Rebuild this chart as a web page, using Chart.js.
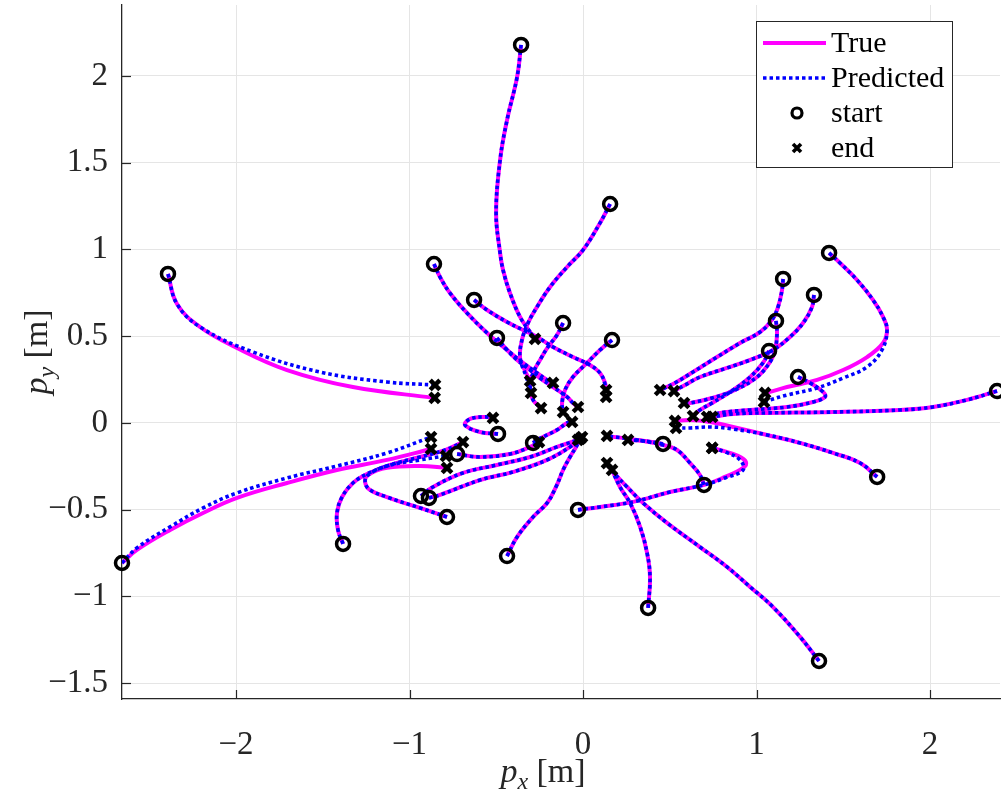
<!DOCTYPE html>
<html><head><meta charset="utf-8">
<script src="https://cdn.jsdelivr.net/npm/chart.js@4/dist/chart.umd.min.js"></script>
<style>html,body{margin:0;padding:0;background:#fff}#wrap{width:1001px;height:794px;position:relative}</style>
</head><body><div id="wrap"><canvas id="c" width="1001" height="794"></canvas></div>
<script>
// axis tick labels
const xTicks = [-2, -1, 0, 1, 2];
const yTicks = [-1.5, -1, -0.5, 0, 0.5, 1, 1.5, 2];
const xRange = [-2.657, 2.403];
const yRange = [-1.591, 2.409];
const legendLabels = ['True', 'Predicted', 'start', 'end'];

// trajectories: true (tr) and predicted (pr), [px, py] in metres
const tr01 = [[-0.357,2.179],[-0.380,1.994],[-0.438,1.746],[-0.478,1.516],[-0.501,1.210],[-0.478,0.980],[-0.461,0.882],[-0.421,0.749],[-0.363,0.611],[-0.305,0.524],[-0.277,0.484]];
const pr01 = tr01;
const tr02 = [[0.156,1.262],[0.098,1.153],[0,0.997],[-0.092,0.899],[-0.190,0.784],[-0.265,0.669],[-0.317,0.576],[-0.352,0.478],[-0.363,0.375],[-0.334,0.300],[-0.305,0.242]];
const pr02 = [[0.156,1.262],[0.098,1.153],[0,0.997],[-0.092,0.899],[-0.190,0.784],[-0.265,0.669],[-0.317,0.576],[-0.352,0.478],[-0.363,0.375],[-0.325,0.260],[-0.300,0.173]];
const tr03 = [[-2.392,0.859],[-2.340,0.686],[-2.207,0.553],[-2.006,0.438],[-1.706,0.305],[-1.326,0.207],[-0.855,0.144]];
const pr03 = [[-2.392,0.859],[-2.340,0.686],[-2.207,0.553],[-1.902,0.409],[-1.516,0.294],[-1.130,0.236],[-0.853,0.219]];
const tr04 = [[-0.859,0.916],[-0.824,0.841],[-0.767,0.749],[-0.669,0.634],[-0.553,0.519],[-0.438,0.421],[-0.346,0.346],[-0.265,0.288],[-0.207,0.248],[-0.173,0.231]];
const pr04 = tr04;
const tr05 = [[-0.628,0.709],[-0.553,0.651],[-0.438,0.582],[-0.346,0.536],[-0.265,0.496],[-0.173,0.438],[-0.058,0.380],[0.040,0.334],[0.098,0.288],[0.127,0.231],[0.133,0.190]];
const pr05 = [[-0.628,0.709],[-0.553,0.651],[-0.438,0.582],[-0.346,0.536],[-0.265,0.496],[-0.173,0.438],[-0.058,0.380],[0.040,0.334],[0.098,0.288],[0.127,0.221],[0.133,0.150]];
const tr06 = [[-0.496,0.490],[-0.438,0.421],[-0.380,0.363],[-0.305,0.305],[-0.248,0.259],[-0.173,0.207],[-0.092,0.150],[-0.058,0.115],[-0.029,0.092]];
const pr06 = tr06;
const tr07 = [[-0.115,0.576],[-0.150,0.507],[-0.202,0.438],[-0.248,0.363],[-0.288,0.288],[-0.305,0.207],[-0.288,0.133],[-0.242,0.086]];
const pr07 = tr07;
const tr08 = [[0.167,0.478],[0.098,0.421],[0.023,0.346],[-0.058,0.265],[-0.104,0.190],[-0.121,0.115],[-0.115,0.063]];
const pr08 = tr08;
const tr09 = [[1.418,0.980],[1.481,0.922],[1.579,0.824],[1.671,0.709],[1.729,0.611],[1.752,0.536],[1.729,0.461],[1.637,0.380],[1.499,0.305],[1.349,0.248],[1.176,0.207],[1.078,0.179],[1.049,0.173]];
const pr09 = [[1.418,0.980],[1.481,0.922],[1.579,0.824],[1.671,0.709],[1.729,0.611],[1.752,0.536],[1.723,0.421],[1.637,0.323],[1.499,0.259],[1.349,0.202],[1.176,0.161],[1.078,0.133],[1.043,0.121]];
const tr10 = [[1.153,0.830],[1.147,0.767],[1.124,0.669],[1.089,0.594],[1.020,0.524],[0.905,0.461],[0.772,0.380],[0.634,0.294],[0.530,0.231],[0.444,0.190]];
const pr10 = tr10;
const tr11 = [[1.331,0.738],[1.320,0.669],[1.268,0.576],[1.193,0.496],[1.095,0.421],[0.963,0.363],[0.830,0.317],[0.674,0.265],[0.588,0.219],[0.524,0.184]];
const pr11 = tr11;
const tr12 = [[1.112,0.588],[1.118,0.519],[1.107,0.421],[1.078,0.352],[1.003,0.265],[0.876,0.190],[0.744,0.144],[0.617,0.115],[0.582,0.115]];
const pr12 = tr12;
const tr13 = [[1.072,0.415],[1.037,0.346],[0.963,0.265],[0.865,0.190],[0.744,0.115],[0.674,0.075],[0.634,0.040]];
const pr13 = tr13;
const tr14 = [[1.239,0.265],[1.308,0.231],[1.383,0.179],[1.395,0.150],[1.326,0.121],[1.176,0.092],[0.963,0.075],[0.790,0.058],[0.715,0.035]];
const pr14 = tr14;
const tr15 = [[2.386,0.184],[2.213,0.133],[2.017,0.092],[1.827,0.075],[1.441,0.063],[1.061,0.058],[0.865,0.052],[0.744,0.035]];
const pr15 = tr15;
const tr16 = [[0.461,-0.121],[0.357,-0.104],[0.259,-0.098]];
const pr16 = tr16;
const tr17 = [[0.697,-0.357],[0.674,-0.300],[0.617,-0.231],[0.542,-0.156],[0.461,-0.127],[0.311,-0.098],[0.138,-0.075]];
const pr17 = tr17;
const tr18 = [[1.695,-0.311],[1.597,-0.231],[1.441,-0.173],[1.251,-0.115],[1.061,-0.069],[0.865,-0.023],[0.732,0.006],[0.617,0.017],[0.530,0.012]];
const pr18 = [[1.695,-0.311],[1.597,-0.231],[1.441,-0.173],[1.251,-0.115],[1.061,-0.069],[0.865,-0.035],[0.732,-0.023],[0.617,-0.029],[0.536,-0.029]];
const tr19 = [[-2.657,-0.807],[-2.571,-0.732],[-2.380,-0.617],[-2.190,-0.519],[-1.994,-0.432],[-1.706,-0.346],[-1.418,-0.271],[-1.130,-0.213],[-0.876,-0.150]];
const pr19 = [[-2.657,-0.807],[-2.571,-0.720],[-2.380,-0.599],[-2.190,-0.490],[-1.994,-0.403],[-1.706,-0.317],[-1.418,-0.248],[-1.130,-0.173],[-0.876,-0.081]];
const tr20 = [[-1.383,-0.697],[-1.412,-0.617],[-1.418,-0.519],[-1.389,-0.427],[-1.326,-0.346],[-1.245,-0.294],[-1.112,-0.242],[-0.939,-0.196],[-0.795,-0.156],[-0.692,-0.110]];
const pr20 = tr20;
const tr21 = [[-0.726,-0.179],[-0.594,-0.196],[-0.421,-0.179],[-0.305,-0.138],[-0.254,-0.110]];
const pr21 = tr21;
const tr22 = [[-0.934,-0.421],[-0.865,-0.369],[-0.692,-0.288],[-0.496,-0.242],[-0.305,-0.196],[-0.150,-0.138],[-0.029,-0.098]];
const pr22 = tr22;
const tr23 = [[-0.888,-0.432],[-0.824,-0.415],[-0.594,-0.329],[-0.403,-0.282],[-0.207,-0.213],[-0.075,-0.138],[-0.006,-0.081]];
const pr23 = tr23;
const tr24 = [[-0.784,-0.542],[-0.939,-0.490],[-1.130,-0.427],[-1.228,-0.386],[-1.256,-0.340],[-1.239,-0.300],[-1.130,-0.259],[-0.939,-0.248],[-0.784,-0.259]];
const pr24 = [[-0.784,-0.542],[-0.939,-0.490],[-1.130,-0.427],[-1.228,-0.386],[-1.256,-0.340],[-1.239,-0.300],[-1.130,-0.248],[-0.939,-0.213],[-0.790,-0.190]];
const tr25 = [[-0.490,-0.063],[-0.594,-0.052],[-0.680,-0.012],[-0.651,0.023],[-0.565,0.035],[-0.519,0.029]];
const pr25 = tr25;
const tr26 = [[-0.288,-0.115],[-0.265,-0.098],[-0.150,-0.040],[-0.092,0.000],[-0.063,0.006]];
const pr26 = tr26;
const tr27 = [[-0.438,-0.767],[-0.380,-0.657],[-0.288,-0.542],[-0.207,-0.461],[-0.156,-0.369],[-0.115,-0.271],[-0.075,-0.196],[-0.040,-0.138],[-0.017,-0.092]];
const pr27 = tr27;
const tr28 = [[-0.029,-0.501],[0.098,-0.484],[0.288,-0.455],[0.501,-0.398],[0.697,-0.357],[0.818,-0.311],[0.922,-0.259],[0.939,-0.225],[0.893,-0.190],[0.790,-0.156],[0.744,-0.144]];
const pr28 = [[-0.029,-0.501],[0.098,-0.484],[0.288,-0.455],[0.501,-0.398],[0.697,-0.357],[0.818,-0.317],[0.922,-0.271],[0.905,-0.213],[0.818,-0.167],[0.744,-0.144]];
const tr29 = [[0.375,-1.066],[0.386,-0.888],[0.369,-0.749],[0.329,-0.599],[0.271,-0.461],[0.213,-0.369],[0.167,-0.271]];
const pr29 = tr29;
const tr30 = [[1.360,-1.372],[1.251,-1.233],[1.095,-1.061],[0.963,-0.945],[0.830,-0.830],[0.674,-0.715],[0.484,-0.576],[0.346,-0.461],[0.254,-0.369],[0.173,-0.282],[0.138,-0.231]];
const pr30 = tr30;

const trueSets = [tr01,tr02,tr03,tr04,tr05,tr06,tr07,tr08,tr09,tr10,tr11,tr12,tr13,tr14,tr15,tr16,tr17,tr18,tr19,tr20,tr21,tr22,tr23,tr24,tr25,tr26,tr27,tr28,tr29,tr30];
const predSets = [pr01,pr02,pr03,pr04,pr05,pr06,pr07,pr08,pr09,pr10,pr11,pr12,pr13,pr14,pr15,pr16,pr17,pr18,pr19,pr20,pr21,pr22,pr23,pr24,pr25,pr26,pr27,pr28,pr29,pr30];

const MAG = '#ff00ff', BLU = '#0000ff', INK = '#262626';
const SERIF = '"Liberation Serif", "Times New Roman", serif';
const toPts = a => a.map(p => ({x: p[0], y: p[1]}));
const fmt = v => String(v).replace('-', '\u2212');

const datasets = [];
datasets.push({label:'start', data: trueSets.map(t => ({x:t[0][0], y:t[0][1]})), showLine:false,
  pointStyle:'circle', pointRadius:6.5, pointBorderWidth:3.5, pointBorderColor:'#000', pointBackgroundColor:'rgba(0,0,0,0)', order:0, clip:false});
const ends = [];
trueSets.forEach((t,i) => { ends.push({x:t[t.length-1][0], y:t[t.length-1][1]}); const p = predSets[i]; if (p !== t) ends.push({x:p[p.length-1][0], y:p[p.length-1][1]}); });
datasets.push({label:'end', data: ends, showLine:false, pointStyle:'crossRot', pointRadius:6.8, pointBorderWidth:4.4,
  pointBorderColor:'#000', pointBackgroundColor:'#000', order:0, clip:false});
predSets.forEach((p,i) => datasets.push({label:'Predicted', data: toPts(p), showLine:true, borderColor:BLU, borderWidth:3.6,
  borderDash:[3.5,3], borderCapStyle:'butt', pointRadius:0, tension:0.4, order:1}));
trueSets.forEach((t,i) => datasets.push({label:'True', data: toPts(t), showLine:true, borderColor:MAG, borderWidth:4,
  pointRadius:0, tension:0.4, order:2}));

const decor = {
  id:'decor',
  afterDraw(chart){
    const ctx = chart.ctx, a = chart.chartArea, xs = chart.scales.x, ys = chart.scales.y;
    ctx.save();
    ctx.strokeStyle = INK; ctx.lineWidth = 1.2;
    xTicks.forEach(v => { const px = Math.round(xs.getPixelForValue(v)) + 0.5; ctx.beginPath(); ctx.moveTo(px, a.bottom); ctx.lineTo(px, a.bottom - 9); ctx.stroke(); });
    yTicks.forEach(v => { const py = Math.round(ys.getPixelForValue(v)) + 0.5; ctx.beginPath(); ctx.moveTo(a.left, py); ctx.lineTo(a.left + 9, py); ctx.stroke(); });
    ctx.fillStyle = INK; ctx.textBaseline = 'alphabetic';
    function title(sub, cx, cy, rot){
      ctx.save(); ctx.translate(cx, cy); ctx.rotate(rot);
      const f1 = 'italic 34px ' + SERIF, f2 = 'italic 24px ' + SERIF, f3 = '34px ' + SERIF;
      ctx.font = f1; const w1 = ctx.measureText('p').width;
      ctx.font = f2; const w2 = ctx.measureText(sub).width;
      ctx.font = f3; const w3 = ctx.measureText(' [m]').width;
      let x = -(w1 + w2 + w3) / 2;
      ctx.font = f1; ctx.fillText('p', x, 0); x += w1;
      ctx.font = f2; ctx.fillText(sub, x, 7); x += w2;
      ctx.font = f3; ctx.fillText(' [m]', x, 0);
      ctx.restore();
    }
    title('x', (a.left + a.right) / 2 - 18, 782, 0);
    title('y', 47, (a.top + a.bottom) / 2, -Math.PI / 2);
    const L = {x:756.5, y:21.5, w:196, h:146};
    ctx.fillStyle = '#fff'; ctx.fillRect(L.x, L.y, L.w, L.h);
    ctx.strokeStyle = INK; ctx.lineWidth = 1; ctx.strokeRect(L.x, L.y, L.w, L.h);
    const rows = [43, 78, 113, 148];
    ctx.lineCap = 'butt';
    ctx.strokeStyle = MAG; ctx.lineWidth = 4; ctx.beginPath(); ctx.moveTo(763, rows[0]); ctx.lineTo(826, rows[0]); ctx.stroke();
    ctx.strokeStyle = BLU; ctx.lineWidth = 3.6; ctx.setLineDash([3.5,3]); ctx.beginPath(); ctx.moveTo(763, rows[1]); ctx.lineTo(826, rows[1]); ctx.stroke();
    ctx.setLineDash([]);
    ctx.strokeStyle = '#000'; ctx.lineWidth = 3.2; ctx.beginPath(); ctx.arc(797, rows[2], 5, 0, Math.PI * 2); ctx.stroke();
    ctx.lineWidth = 3.6; const d = 4;
    ctx.beginPath(); ctx.moveTo(797 - d, rows[3] - d); ctx.lineTo(797 + d, rows[3] + d); ctx.moveTo(797 + d, rows[3] - d); ctx.lineTo(797 - d, rows[3] + d); ctx.stroke();
    ctx.fillStyle = '#000'; ctx.font = '30px ' + SERIF; ctx.textBaseline = 'middle';
    legendLabels.forEach((s, i) => ctx.fillText(s, 831, rows[i] + 1));
    ctx.restore();
  }
};

function zeroPad(s){ s.paddingTop = 0; s.paddingBottom = 0; s.paddingLeft = 0; s.paddingRight = 0; }

new Chart(document.getElementById('c'), {
  type: 'scatter',
  data: { datasets },
  options: {
    responsive:false, animation:false, devicePixelRatio:1,
    layout:{ autoPadding:false, padding:{ top:5, right:1, left:0, bottom:0 } },
    plugins:{ legend:{ display:false }, tooltip:{ enabled:false } },
    scales:{
      x:{ type:'linear', min:xRange[0], max:xRange[1],
        afterBuildTicks: s => { s.ticks = xTicks.map(v => ({value:v})); },
        afterFit: s => { s.height = 95; zeroPad(s); },
        ticks:{ color:INK, padding:27, font:{ family:SERIF, size:33 }, callback: fmt },
        grid:{ color:'#e5e5e5', lineWidth:1, drawTicks:false },
        border:{ display:true, color:INK, width:1.3 } },
      y:{ type:'linear', min:yRange[0], max:yRange[1],
        afterBuildTicks: s => { s.ticks = yTicks.map(v => ({value:v})); },
        afterFit: s => { s.width = 122; zeroPad(s); },
        ticks:{ color:INK, padding:14, font:{ family:SERIF, size:33 }, callback: fmt },
        grid:{ color:'#e5e5e5', lineWidth:1, drawTicks:false },
        border:{ display:true, color:INK, width:1.3 } }
    }
  },
  plugins:[decor]
});
</script>
</body></html>
